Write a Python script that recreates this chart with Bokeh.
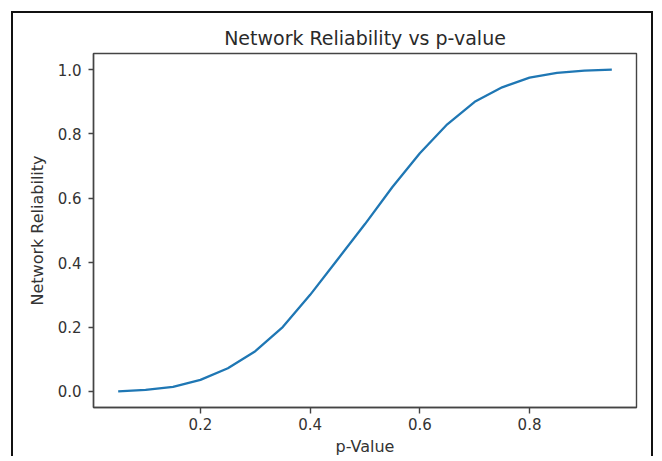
from bokeh.plotting import figure
from bokeh.models import Range1d, FixedTicker, CustomJSTickFormatter
from bokeh.embed import file_html
from bokeh.resources import INLINE

p_values = [0.05, 0.10, 0.15, 0.20, 0.25, 0.30, 0.35, 0.40, 0.45, 0.50,
            0.55, 0.60, 0.65, 0.70, 0.75, 0.80, 0.85, 0.90, 0.95]
reliability = [0.0, 0.005, 0.014, 0.036, 0.072, 0.125, 0.20, 0.30, 0.41, 0.52,
               0.635, 0.74, 0.83, 0.90, 0.945, 0.975, 0.99, 0.997, 1.0]
x_ticks = [0.2, 0.4, 0.6, 0.8]
y_ticks = [0.0, 0.2, 0.4, 0.6, 0.8, 1.0]

FONT = "DejaVu Sans"
TXT = "#333333"
AX = "#444444"

p = figure(width=642, height=445, output_backend="svg", toolbar_location=None,
           title="Network Reliability vs p-value",
           x_range=Range1d(0.005, 0.995), y_range=Range1d(-0.05, 1.05),
           min_border_left=80, min_border_right=19, min_border_top=40, min_border_bottom=50)

p.styles = {"margin-left": "11px", "margin-top": "11px",
            "border-left": "2px solid #111", "border-top": "2px solid #111",
            "border-right": "2px solid #111"}

p.title.align = "center"
p.title.text_font = FONT
p.title.text_font_size = "19px"
p.title.text_font_style = "normal"
p.title.text_color = "#2a2a2a"
p.title.standoff = 10

p.line(p_values, reliability, line_color="#1f77b4", line_width=2.3)

p.xgrid.visible = False
p.ygrid.visible = False
p.outline_line_color = AX
p.outline_line_width = 1.4

for ax in (p.xaxis, p.yaxis):
    ax.axis_line_color = AX
    ax.axis_line_width = 1.4
    ax.major_tick_line_color = AX
    ax.major_tick_line_width = 1.4
    ax.major_tick_in = 0
    ax.minor_tick_out = 0
    ax.minor_tick_in = 0
    ax.major_label_text_font = FONT
    ax.major_label_text_font_size = "15px"
    ax.major_label_text_color = TXT
    ax.axis_label_text_font = FONT
    ax.axis_label_text_font_size = "16px"
    ax.axis_label_text_font_style = "normal"
    ax.axis_label_text_color = TXT

p.xaxis.major_tick_out = 6
p.yaxis.major_tick_out = 5
p.xaxis.major_label_standoff = 4
p.yaxis.major_label_standoff = 7
p.xaxis.axis_label_standoff = 4
p.yaxis.axis_label_standoff = 8

p.xaxis.ticker = FixedTicker(ticks=x_ticks)
p.yaxis.ticker = FixedTicker(ticks=y_ticks)
fmt = CustomJSTickFormatter(code="return tick.toFixed(1);")
p.xaxis.formatter = fmt
p.yaxis.formatter = fmt
p.xaxis.axis_label = "p-Value"
p.yaxis.axis_label = "Network Reliability"

open("out.html", "w").write(file_html(p, INLINE))
